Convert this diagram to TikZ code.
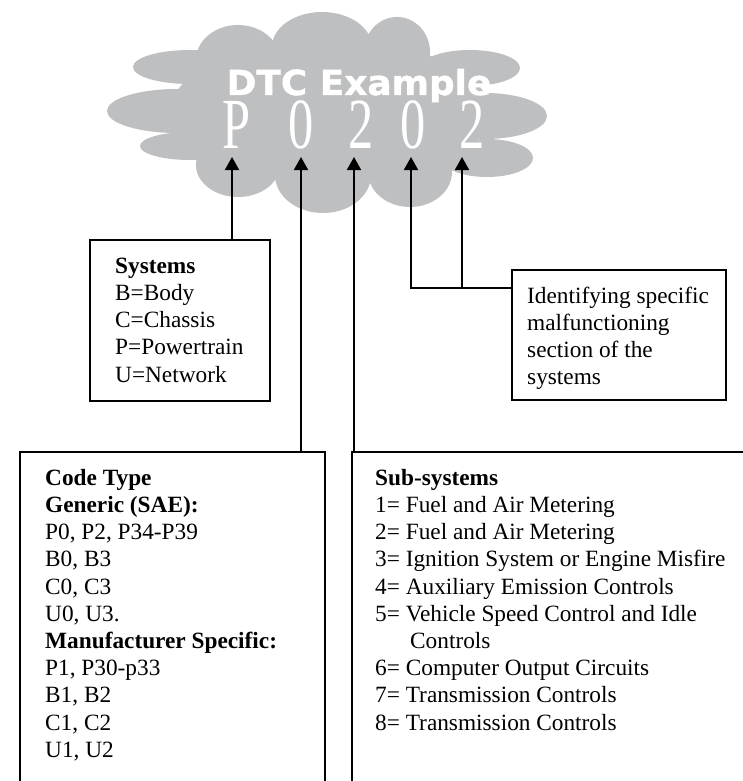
\documentclass[tikz,border=0pt]{standalone}
\usepackage{fontspec}
\setmainfont{Liberation Serif}
\newfontfamily\headfont[FakeBold=1.2]{DejaVu Sans Bold}
\usetikzlibrary{arrows.meta}
\definecolor{cloudgray}{RGB}{190,191,193}
\tikzset{
  boxframe/.style={draw=black, line width=1.8pt, fill=none, inner sep=0pt},
  boxtext/.style={anchor=north west, inner sep=0pt, align=left,
    font=\fontsize{23.3}{27.2}\selectfont},
  ptr/.style={line width=1.8pt, -{Triangle[width=14pt,length=13pt]}},
  digit/.style={anchor=base, text=white, inner sep=0pt, xscale=0.70, transform shape,
    font=\rmfamily\fontsize{72}{72}\selectfont},
}
\begin{document}
\begin{tikzpicture}[x=1pt,y=-1pt]
\useasboundingbox (0,0) rectangle (743,781);
\clip (0,0) rectangle (743,781);

% cloud built from overlapping puffs
\fill[cloudgray]
  (238,60) ellipse [x radius=42, y radius=35]
  (322,47) ellipse [x radius=50, y radius=35]
  (397,52) ellipse [x radius=33, y radius=35]
  (190,67) ellipse [x radius=57, y radius=17]
  (177,111) ellipse [x radius=70, y radius=22]
  (190,146) ellipse [x radius=50, y radius=14]
  (238,165) ellipse [x radius=42, y radius=32]
  (323,175) ellipse [x radius=48, y radius=38]
  (410,172) ellipse [x radius=42, y radius=35]
  (470,68) ellipse [x radius=50, y radius=18]
  (485,116) ellipse [x radius=62, y radius=23]
  (487,158) ellipse [x radius=46, y radius=19]
  (330,112) ellipse [x radius=160, y radius=72];

% title and code characters
\node[anchor=base, text=white, inner sep=0pt, xscale=1.04, transform shape,
  font=\headfont\fontsize{34.5}{34.5}\selectfont] (title) at (359,95) {DTC Example};
\node[digit] (dP) at (237,148) {P};
\node[digit] (dA) at (301,148) {0};
\node[digit] (dB) at (361,148) {2};
\node[digit] (dC) at (413,148) {0};
\node[digit] (dD) at (472,148) {2};

% arrow tips just below the characters
\coordinate (tP) at (232,157);
\coordinate (tA) at (301,157);
\coordinate (tB) at (354,157);
\coordinate (tC) at (411,157);
\coordinate (tD) at (462,157);
\coordinate (join) at (411,288);

% boxes
\node[boxframe, anchor=north west, minimum width=180pt, minimum height=161pt] (sys) at (89,239) {};
\node[boxframe, anchor=north west, minimum width=214pt, minimum height=130pt] (ident) at (511,269) {};
\node[boxframe, anchor=north west, minimum width=305pt, minimum height=380pt] (code) at (19,451) {};
\node[boxframe, anchor=north west, minimum width=420pt, minimum height=380pt] (sub) at (351,451) {};

% box texts
\node[boxtext] (systxt) at (115,254) {\strut\textbf{Systems}\\B=Body\\C=Chassis\\P=Powertrain\\U=Network};
\node[boxtext] (identtxt) at (527,284) {\strut Identifying specific\\malfunctioning\\section of the\\systems};
\node[boxtext] (codetxt) at (45,466) {\strut\textbf{Code Type}\\\textbf{Generic (SAE):}\\P0, P2, P34-P39\\B0, B3\\C0, C3\\U0, U3.\\\textbf{Manufacturer Specific:}\\P1, P30-p33\\B1, B2\\C1, C2\\U1, U2};
\node[boxtext] (subtxt) at (375,466) {\strut\textbf{Sub-systems}\\1= Fuel and Air Metering\\2= Fuel and Air Metering\\3= Ignition System or Engine Misfire\\4= Auxiliary Emission Controls\\5= Vehicle Speed Control and Idle\\\hspace*{35pt}Controls\\6= Computer Output Circuits\\7= Transmission Controls\\8= Transmission Controls};

% connectors
\draw[ptr] (tP |- sys.north) -- (tP);
\draw[ptr] (tA |- code.north) -- (tA);
\draw[ptr] (tB |- sub.north) -- (tB);
\draw[ptr] (ident.west |- join) -- (join) -- (tC);
\draw[ptr] (tD |- join) -- (tD);
\end{tikzpicture}
\end{document}
